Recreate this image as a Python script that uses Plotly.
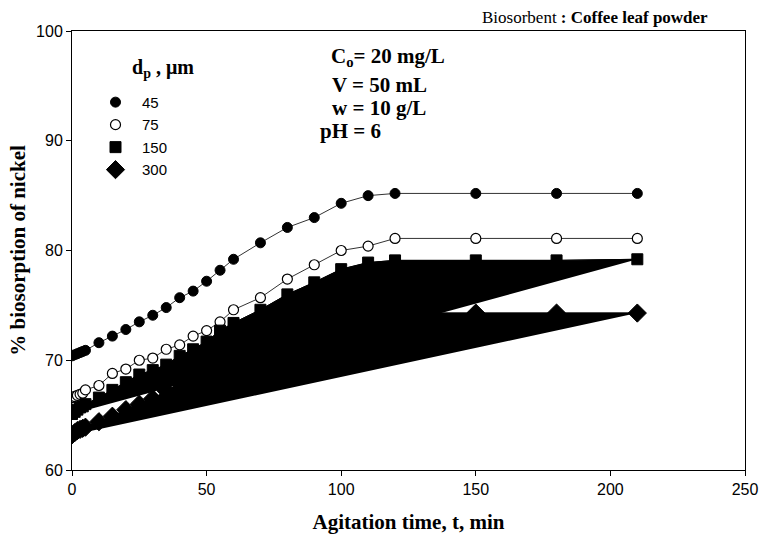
import plotly.graph_objects as go

t = [0, 1, 2, 3, 4, 5, 10, 15, 20, 25, 30, 35, 40, 45, 50, 55, 60, 70, 80, 90, 100, 110, 120, 150, 180, 210]
d45 = [70.4, 70.5, 70.6, 70.7, 70.8, 70.9, 71.6, 72.2, 72.8, 73.5, 74.1, 74.8, 75.7, 76.3, 77.2, 78.2, 79.2, 80.7, 82.1, 83.0, 84.3, 85.0, 85.2, 85.2, 85.2, 85.2]
d75 = [66.6, 66.7, 66.8, 66.9, 67.0, 67.3, 67.7, 68.8, 69.2, 70.0, 70.2, 71.0, 71.4, 72.2, 72.7, 73.5, 74.6, 75.7, 77.4, 78.7, 80.0, 80.4, 81.1, 81.1, 81.1, 81.1]
d150 = [65.1, 65.3, 65.5, 65.7, 65.8, 66.0, 66.6, 67.3, 68.0, 68.7, 69.1, 69.6, 70.4, 71.0, 71.7, 72.7, 73.4, 74.6, 76.0, 77.1, 78.3, 78.9, 79.1, 79.1, 79.1, 79.2]
d300 = [63.2, 63.4, 63.6, 63.7, 63.8, 63.9, 64.4, 64.9, 65.5, 66.0, 66.5, 67.2, 67.9, 68.6, 69.2, 69.8, 70.4, 71.5, 72.5, 73.4, 74.0, 74.3, 74.3, 74.3, 74.3, 74.3]
labels = ["45", "75", "150", "300"]

fig = go.Figure()

# filled artefact polygons (drawn first)
for y in (d300, d150):
    fig.add_trace(go.Scatter(x=t, y=y, mode="lines", fill="toself", fillcolor="black",
                             line=dict(color="black", width=1), showlegend=False, hoverinfo="skip"))

series = [d45, d75, d150, d300]
line_cols = ["#333333", "#333333", "black", "black"]
markers = [
    dict(symbol="circle", size=10, color="black", line=dict(color="black", width=1)),
    dict(symbol="circle", size=10, color="white", line=dict(color="black", width=1.2)),
    dict(symbol="square", size=11, color="black", line=dict(color="black", width=1)),
    dict(symbol="diamond", size=14, color="black", line=dict(color="black", width=1)),
]
for y, lc in zip(series, line_cols):
    fig.add_trace(go.Scatter(x=t, y=y, mode="lines", line=dict(color=lc, width=1),
                             showlegend=False, hoverinfo="skip"))
for y, mk, name in zip(series, markers, labels):
    fig.add_trace(go.Scatter(x=t, y=y, mode="markers", name=name, marker=mk))

serif = "Liberation Serif, Times New Roman, serif"
sans = "Liberation Sans, Arial, sans-serif"

fig.update_layout(
    width=760, height=534,
    margin=dict(l=72, r=15, t=31, b=64),
    plot_bgcolor="white", paper_bgcolor="white",
    showlegend=True,
    legend=dict(x=(89 - 72) / 673, y=0.875, xanchor="left", yanchor="top",
                font=dict(family=sans, size=15, color="black"),
                bgcolor="rgba(0,0,0,0)", itemwidth=43, tracegroupgap=0),
    xaxis=dict(range=[0, 250], dtick=50, tick0=0, showgrid=False, zeroline=False,
               showline=True, linecolor="black", linewidth=1, mirror=True,
               ticks="outside", ticklen=5, tickcolor="black", automargin=False,
               tickfont=dict(family=sans, size=16, color="black"),
               title=dict(text="<b>Agitation time, t, min</b>", font=dict(family=serif, size=21, color="black"), standoff=17)),
    yaxis=dict(range=[60, 100], dtick=10, tick0=60, showgrid=False, zeroline=False,
               showline=True, linecolor="black", linewidth=1, mirror=True,
               ticks="outside", ticklen=5, tickcolor="black", automargin=False,
               tickfont=dict(family=sans, size=16, color="black"),
               title=dict(text="<b>% biosorption of nickel</b>", font=dict(family=serif, size=21, color="black"), standoff=4)),
)

ann_font = dict(family=serif, size=21, color="black")
anns = [
    ("<b>C<sub>o</sub>= 20 mg/L</b>", 329, 57),
    ("<b>V = 50 mL</b>", 330, 85),
    ("<b>w = 10 g/L</b>", 330, 108),
    ("<b>pH = 6</b>", 318, 131),
]
for txt, px, py in anns:
    fig.add_annotation(text=txt, xref="paper", yref="paper",
                       x=(px - 72) / 673, y=(470 - py) / 439,
                       xanchor="left", yanchor="middle", showarrow=False, font=ann_font)

fig.add_annotation(text="<b>d<sub>p</sub> , μm</b>", xref="paper", yref="paper",
                   x=(130 - 72) / 673, y=(470 - 68) / 439, xanchor="left", yanchor="middle",
                   showarrow=False, font=dict(family=serif, size=20, color="black"))

fig.add_annotation(text="Biosorbent <b>: Coffee leaf powder</b>", xref="paper", yref="paper",
                   x=(595 - 72) / 673, y=(470 - 17) / 439, xanchor="center", yanchor="middle",
                   showarrow=False, font=dict(family=serif, size=17, color="black"))

fig.write_html("out.html")
